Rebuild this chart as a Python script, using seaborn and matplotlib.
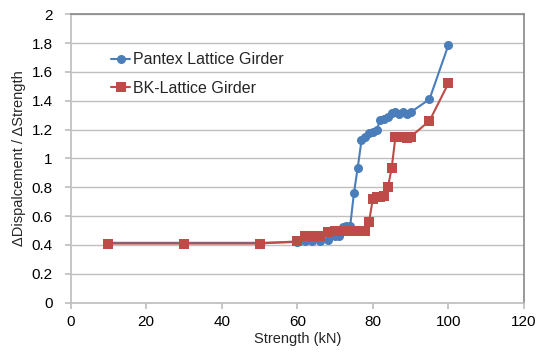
import matplotlib
matplotlib.use("Agg")
import matplotlib.pyplot as plt
import seaborn as sns
import pandas as pd

# Pantex lattice girder
pantex_strength = [10, 30, 50, 60, 62, 64, 66, 68, 70, 71, 72, 73, 74, 75, 76, 77, 78, 79,
                   80, 81, 82, 83, 84, 85, 86, 87, 88, 89, 90, 95, 100]
pantex_ratio = [0.415, 0.415, 0.415, 0.42, 0.425, 0.43, 0.43, 0.435, 0.465, 0.46, 0.525, 0.53,
                0.53, 0.76, 0.935, 1.125, 1.15, 1.175, 1.185, 1.20, 1.265, 1.275, 1.285, 1.315,
                1.32, 1.305, 1.32, 1.31, 1.32, 1.41, 1.785]

# BK lattice girder
bk_strength = [10, 30, 50, 60, 62, 64, 66, 68, 70, 72, 73, 74, 75, 76, 78, 79, 80, 81, 82, 83,
               84, 85, 86, 87, 88, 89, 90, 95, 100]
bk_ratio = [0.41, 0.41, 0.41, 0.425, 0.46, 0.46, 0.465, 0.49, 0.495, 0.50, 0.50, 0.50, 0.495,
            0.495, 0.50, 0.56, 0.72, 0.73, 0.73, 0.74, 0.80, 0.935, 1.15, 1.15, 1.15, 1.14,
            1.15, 1.26, 1.52]

series_names = ["Pantex Lattice Girder", "BK-Lattice Girder"]
colors = ["#4a7ebb", "#be4b48"]

df = pd.concat([
    pd.DataFrame({"Strength": pantex_strength, "Ratio": pantex_ratio, "Series": series_names[0]}),
    pd.DataFrame({"Strength": bk_strength, "Ratio": bk_ratio, "Series": series_names[1]}),
], ignore_index=True)

sns.set_theme(style="white")
plt.rcParams["font.family"] = ["Liberation Sans", "DejaVu Sans"]

fig = plt.figure(figsize=(5.48, 3.54), dpi=100)
ax = fig.add_axes([0.129, 0.145, 0.827, 0.815])

sns.lineplot(data=df, x="Strength", y="Ratio", hue="Series", style="Series",
             palette=colors, markers=["o", "s"], dashes=False, markersize=6.5,
             markeredgewidth=0, linewidth=1.5, sort=False, ax=ax)

ax.set_xlim(0, 120)
ax.set_ylim(0, 2)
ax.set_xticks(range(0, 121, 20))
ax.set_yticks([0, 0.2, 0.4, 0.6, 0.8, 1, 1.2, 1.4, 1.6, 1.8, 2])
ax.set_yticklabels(["0", "0.2", "0.4", "0.6", "0.8", "1", "1.2", "1.4", "1.6", "1.8", "2"])
ax.yaxis.grid(True, color="#bfbfbf", linewidth=1)
ax.set_axisbelow(True)
for side in ["left", "bottom"]:
    ax.spines[side].set_color("#bfbfbf")
ax.spines["top"].set_color("#8c8c8c")
ax.spines["right"].set_color("#8c8c8c")
ax.tick_params(axis="both", labelsize=11, colors="black", length=4, color="#bfbfbf",
               direction="out", bottom=True, left=True)
ax.tick_params(axis="x", pad=5)
ax.tick_params(axis="y", pad=9)

ax.set_xlabel("Strength (kN)", fontsize=10.5, labelpad=2)
ax.set_ylabel("ΔDispalcement / ΔStrength", fontsize=10.5, labelpad=4)

handles, labels = ax.get_legend_handles_labels()
ax.legend(handles, labels, loc="upper left", bbox_to_anchor=(0.075, 0.89), frameon=False,
          fontsize=11.5, handlelength=1.2, handletextpad=0.2, labelspacing=0.85,
          borderaxespad=0)

fig.savefig("out.png", dpi=100)
